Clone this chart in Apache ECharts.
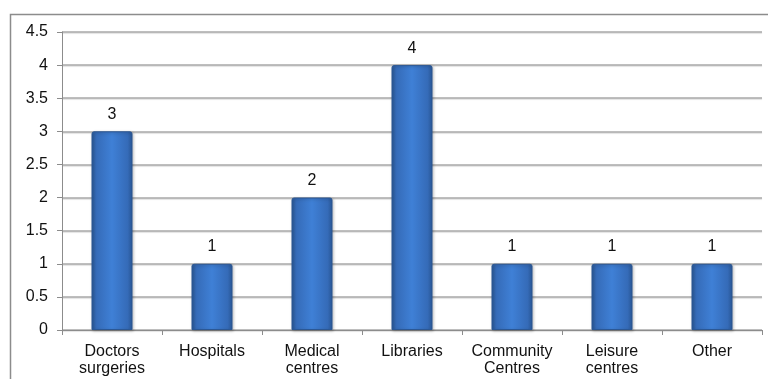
<!DOCTYPE html>
<html>
<head>
<meta charset="utf-8">
<script src="https://cdn.jsdelivr.net/npm/echarts@6/dist/echarts.min.js"></script>
<style>
  html, body { margin: 0; padding: 0; background: #fff; }
  #chart { width: 768px; height: 379px; }
</style>
</head>
<body>
<div id="chart"></div>
<script>
// Venue categories and counts
const categories = ['Doctors\nsurgeries', 'Hospitals', 'Medical\ncentres', 'Libraries', 'Community\nCentres', 'Leisure\ncentres', 'Other'];
const counts = [3, 1, 2, 4, 1, 1, 1];
const yTicks = [0, 0.5, 1, 1.5, 2, 2.5, 3, 3.5, 4, 4.5];

const chart = echarts.init(document.getElementById('chart'), null, { renderer: 'canvas' });

const barFill = new echarts.graphic.LinearGradient(0, 0, 1, 0, [
  { offset: 0, color: '#2a5896' },
  { offset: 0.12, color: '#356bb8' },
  { offset: 0.5, color: '#3f80d6' },
  { offset: 0.88, color: '#356bb8' },
  { offset: 1, color: '#2a5896' }
]);

const option = {
  animation: false,
  backgroundColor: '#ffffff',
  textStyle: { fontFamily: 'Liberation Sans, Arial, sans-serif' },
  graphic: [{
    type: 'rect',
    shape: { x: 10.5, y: 14.5, width: 800, height: 400 },
    style: { fill: 'none', stroke: '#8c8c8c', lineWidth: 1.5 },
    silent: true
  }],
  grid: { left: 62, right: 6, top: 32, bottom: 49 },
  xAxis: {
    type: 'category',
    data: categories,
    axisLine: { show: true, lineStyle: { color: '#8c8c8c', width: 1 } },
    axisTick: { show: true, length: 5, alignWithLabel: false, lineStyle: { color: '#8c8c8c' } },
    axisLabel: { color: '#111', fontSize: 16, lineHeight: 17, margin: 13, interval: 0 }
  },
  yAxis: {
    type: 'value',
    min: yTicks[0],
    max: yTicks[yTicks.length - 1],
    interval: 0.5,
    axisLine: { show: true, lineStyle: { color: '#8c8c8c', width: 1 } },
    axisTick: { show: true, length: 5, lineStyle: { color: '#8c8c8c' } },
    axisLabel: { color: '#111', fontSize: 16, margin: 14 },
    splitLine: { show: true, lineStyle: { color: '#a8a8a8', width: 1.5, shadowColor: 'rgba(0,0,0,0.15)', shadowOffsetY: 1, shadowBlur: 1 } }
  },
  series: [{
    type: 'bar',
    data: counts,
    barWidth: 41,
    itemStyle: {
      color: barFill,
      borderColor: '#2b5794',
      borderWidth: 1,
      borderRadius: [2, 2, 0, 0],
      shadowColor: 'rgba(0,0,0,0.25)',
      shadowBlur: 3,
      shadowOffsetX: 1,
      shadowOffsetY: 1
    },
    label: {
      show: true,
      position: 'top',
      distance: 9,
      color: '#111',
      fontSize: 16
    }
  }]
};

chart.setOption(option);
</script>
</body>
</html>
